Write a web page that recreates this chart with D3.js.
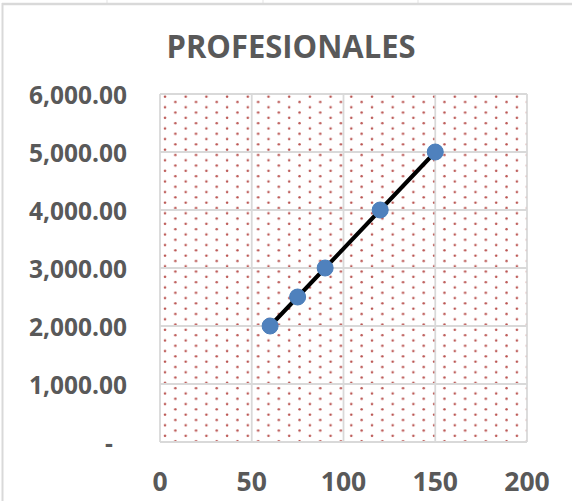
<!DOCTYPE html>
<html>
<head>
<meta charset="utf-8">
<script src="https://cdn.jsdelivr.net/npm/d3@7"></script>
<style>
  html, body { margin: 0; padding: 0; background: #ffffff; }
  svg { display: block; }
  text { font-family: "Open Sans", "Liberation Sans", sans-serif; font-weight: bold; fill: #595959; }
</style>
</head>
<body>
<svg id="chart" width="572" height="501"></svg>
<script>
// Chart data: professionals (x) vs. amount (y)
const title = "PROFESIONALES";
const xValues = [60, 75, 90, 120, 150];
const yValues = [2000, 2500, 3000, 4000, 5000];
const xTicks = [0, 50, 100, 150, 200];
const yTicks = [0, 1000, 2000, 3000, 4000, 5000, 6000];

const W = 572, H = 501;
const plot = { left: 160, right: 527, top: 94, bottom: 442 };

const svg = d3.select("#chart");

// Light spreadsheet frame around the chart
[107, 263, 418].forEach(cx => {
  svg.append("line").attr("x1", cx).attr("x2", cx).attr("y1", 0).attr("y2", 3)
    .attr("stroke", "#e3e3e3").attr("stroke-width", 1);
});
svg.append("line").attr("x1", 2).attr("x2", W).attr("y1", 4).attr("y2", 4)
  .attr("stroke", "#d9d9d9").attr("stroke-width", 2.5);
svg.append("line").attr("x1", 2.5).attr("x2", 2.5).attr("y1", 3).attr("y2", H)
  .attr("stroke", "#d9d9d9").attr("stroke-width", 2);

const x = d3.scaleLinear().domain([0, 200]).range([plot.left, plot.right]);
const y = d3.scaleLinear().domain([0, 6000]).range([plot.bottom, plot.top]);

// Dotted fill pattern for the plot area
const defs = svg.append("defs");
const pat = defs.append("pattern")
  .attr("id", "dots")
  .attr("patternUnits", "userSpaceOnUse")
  .attr("x", plot.left).attr("y", plot.top)
  .attr("width", 20.7).attr("height", 10.6);
pat.append("circle").attr("cx", 5).attr("cy", 2.6).attr("r", 1.25).attr("fill", "#b23f3c").attr("fill-opacity", 0.9);
pat.append("circle").attr("cx", 15.35).attr("cy", 7.9).attr("r", 1.25).attr("fill", "#b23f3c").attr("fill-opacity", 0.9);

svg.append("rect")
  .attr("x", plot.left).attr("y", plot.top)
  .attr("width", plot.right - plot.left).attr("height", plot.bottom - plot.top)
  .attr("fill", "url(#dots)");

// Gridlines
const grid = svg.append("g").attr("stroke", "#d9d9d9").attr("stroke-width", 1.8);
grid.selectAll("line.h").data(yTicks).join("line")
  .attr("class", "h")
  .attr("x1", plot.left).attr("x2", plot.right)
  .attr("y1", d => y(d)).attr("y2", d => y(d));
grid.selectAll("line.v").data(xTicks).join("line")
  .attr("class", "v")
  .attr("y1", plot.top).attr("y2", plot.bottom)
  .attr("x1", d => x(d)).attr("x2", d => x(d));

// Axis labels
const fmt = d3.format(",.2f");
svg.append("g").selectAll("text").data(yTicks).join("text")
  .attr("x", d => d === 0 ? 113 : 127)
  .attr("y", d => y(d) + 9.5)
  .attr("text-anchor", "end")
  .attr("font-size", 24.5)
  .text(d => d === 0 ? "-" : fmt(d));

svg.append("g").selectAll("text").data(xTicks).join("text")
  .attr("x", d => x(d))
  .attr("y", 491)
  .attr("text-anchor", "middle")
  .attr("font-size", 26.5)
  .text(d => d);

// Title
svg.append("text")
  .attr("x", 291).attr("y", 58)
  .attr("text-anchor", "middle")
  .attr("font-size", 32)
  .attr("textLength", 249).attr("lengthAdjust", "spacingAndGlyphs")
  .text(title);

// Series line and markers
const pts = xValues.map((v, i) => [v, yValues[i]]);
svg.append("path")
  .datum(pts)
  .attr("fill", "none")
  .attr("stroke", "#000000")
  .attr("stroke-width", 4)
  .attr("d", d3.line().x(d => x(d[0])).y(d => y(d[1])));

svg.append("g").selectAll("circle").data(pts).join("circle")
  .attr("cx", d => x(d[0])).attr("cy", d => y(d[1]))
  .attr("r", 8)
  .attr("fill", "#4f81bd")
  .attr("stroke", "#4a7ebb").attr("stroke-width", 1);
</script>
</body>
</html>
